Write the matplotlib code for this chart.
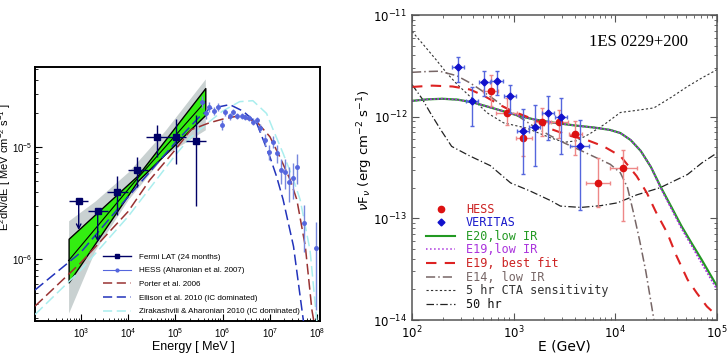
import numpy as np
import matplotlib.pyplot as plt
from matplotlib.lines import Line2D
from matplotlib.ticker import FuncFormatter, LogLocator, NullFormatter

plt.rcParams['font.family'] = 'DejaVu Sans'

# ---------------- left panel data (MeV) ----------------
fermi_e = [900, 2270, 5900, 15500, 40000, 103000, 275000]
fermi_elo = [550, 1440, 3610, 10000, 24300, 68500, 169000]
fermi_ehi = [1450, 3790, 10000, 26300, 68500, 169000, 450000]
fermi_f = [3.3e-6, 2.7e-6, 4.0e-6, 6.3e-6, 1.23e-5, 1.24e-5, 1.14e-5]
fermi_flo = [1.72e-6, 1.35e-6, 2.49e-6, 4.4e-6, 8.2e-6, 7.1e-6, 3.0e-6]
fermi_fhi = [3.3e-6, 2.7e-6, 5.47e-6, 8.2e-6, 1.58e-5, 1.78e-5, 1.95e-5]
fermi_ul = [True, True, False, False, False, False, False]

hess_loge = [5.57, 5.64, 5.72, 5.81, 5.90, 5.985, 6.06, 6.15, 6.23, 6.31, 6.40, 6.47, 6.55,
             6.64, 6.72, 6.80, 6.89, 6.98, 7.06, 7.155, 7.23, 7.32, 7.40, 7.48, 7.57, 7.73, 7.97]
hess_f = [2.55e-5, 2.0e-5, 2.3e-5, 2.12e-5, 2.28e-5, 1.58e-5, 2.04e-5, 1.88e-5, 2.08e-5, 1.91e-5,
          1.9e-5, 1.85e-5, 1.82e-5, 1.69e-5, 1.75e-5, 1.48e-5, 1.16e-5, 9.1e-6, 1.12e-5, 8.8e-6,
          6.3e-6, 6.05e-6, 4.93e-6, 5.3e-6, 6.7e-6, 2.1e-6, 1.26e-6]
hess_rel = [0.12, 0.10, 0.10, 0.08, 0.08, 0.10, 0.07, 0.07, 0.06, 0.06, 0.06, 0.06, 0.06,
            0.07, 0.07, 0.08, 0.12, 0.15, 0.12, 0.18, 0.25, 0.3, 0.35, 0.35, 0.3, 0.45, 0.72]

grey_e = [550, 2000, 1e4, 6e4, 4.3e5]
grey_hi = [2.2e-6, 3.3e-6, 6.0e-6, 1.4e-5, 4.07e-5]
grey_lo = [3.3e-7, 1.2e-6, 3.4e-6, 8.5e-6, 1.43e-5]

bow_e = [550, 16000, 4.3e5]
bow_hi = [1.52e-6, 5.6e-6, 3.37e-5]
bow_lo = [6.2e-7, 5.0e-6, 1.94e-5]
bow_c = [9.7e-7, 5.3e-6, 2.55e-5]

porter_loge = [2.03, 3.0, 4.0, 4.46, 5.0, 5.33, 5.72, 6.0, 6.33, 6.72, 7.0, 7.21, 7.43, 7.57, 7.75, 7.89, 7.95]
porter_f = [3.8e-7, 9.3e-7, 2.66e-6, 5.1e-6, 9.5e-6, 1.43e-5, 1.65e-5, 1.78e-5, 1.9e-5, 1.69e-5,
            1.24e-5, 8.2e-6, 5.1e-6, 3.4e-6, 1.3e-6, 3.5e-7, 2.5e-7]
ellison_loge = [2.03, 3.0, 4.0, 5.0, 5.5, 5.72, 6.15, 6.43, 6.72, 6.86, 7.0, 7.14, 7.28, 7.5, 7.72]
ellison_f = [5.3e-7, 1.15e-6, 3.6e-6, 1.1e-5, 1.85e-5, 2.2e-5, 2.4e-5, 2.1e-5, 1.64e-5, 1.16e-5,
             8.2e-6, 5.5e-6, 3.4e-6, 1.3e-6, 2.6e-7]
zira_loge = [2.03, 3.0, 4.0, 5.0, 5.3, 5.65, 6.0, 6.36, 6.64, 6.93, 7.07, 7.28, 7.5, 7.64, 7.85, 8.0]
zira_f = [3.2e-7, 8.0e-7, 2.4e-6, 8.5e-6, 1.2e-5, 1.6e-5, 2.1e-5, 2.55e-5, 2.6e-5, 2.0e-5,
          1.43e-5, 8.8e-6, 5.1e-6, 3.4e-6, 1.2e-6, 2.6e-7]

# ---------------- right panel data (GeV) ----------------
hr_e = [596, 851, 1222, 1897, 2818, 4036, 6699, 12023]
hr_elo = [501, 676, 1047, 1585, 2344, 3467, 5129, 8913]
hr_ehi = [708, 1072, 1514, 2239, 3388, 4677, 8913, 16218]
hr_f = [1.77e-12, 1.09e-12, 6.2e-13, 8.8e-13, 8.8e-13, 6.8e-13, 2.23e-13, 3.1e-13]
hr_flo = [1.27e-12, 8.3e-13, 4.1e-13, 6.4e-13, 6.2e-13, 4.2e-13, 1.3e-13, 9.4e-14]
hr_fhi = [2.57e-12, 1.53e-12, 7.75e-13, 1.22e-12, 1.17e-12, 9.0e-13, 3.9e-13, 4.7e-13]

ver_e = [286, 387, 516, 682, 912, 1222, 1603, 2173, 2917, 4467]
ver_elo = [250, 338, 451, 596, 796, 1067, 1400, 1897, 2547, 3597]
ver_ehi = [327, 443, 591, 781, 1045, 1400, 1836, 2489, 3342, 5458]
ver_f = [3.08e-12, 1.41e-12, 2.17e-12, 2.26e-12, 1.58e-12, 7.16e-13, 8.0e-13, 1.09e-12, 9.9e-13, 5.2e-13]
ver_flo = [2.2e-12, 8.1e-13, 1.58e-12, 1.64e-12, 1.09e-12, 2.7e-13, 3.3e-13, 5.9e-13, 4.3e-13, 1.2e-13]
ver_fhi = [3.9e-12, 1.96e-12, 2.8e-12, 2.83e-12, 2.07e-12, 1.18e-12, 1.3e-12, 1.58e-12, 1.52e-12, 9.3e-13]

e20_loge = [2.0, 2.15, 2.3, 2.45, 2.6, 2.75, 2.9, 3.05, 3.2, 3.4, 3.6, 3.8, 3.95, 4.05, 4.15,
            4.25, 4.35, 4.45, 4.55, 4.65, 4.75, 4.85, 5.0]
e20_f = [1.43e-12, 1.48e-12, 1.5e-12, 1.47e-12, 1.38e-12, 1.25e-12, 1.13e-12, 1.02e-12, 9.4e-13,
         8.7e-13, 8.2e-13, 7.8e-13, 7.4e-13, 6.9e-13, 5.9e-13, 4.6e-13, 3.2e-13, 2.0e-13, 1.3e-13,
         8.4e-14, 5.7e-14, 3.9e-14, 2.15e-14]
e19_f = [1.43e-12, 1.48e-12, 1.5e-12, 1.47e-12, 1.38e-12, 1.25e-12, 1.13e-12, 1.02e-12, 9.4e-13,
         8.7e-13, 8.2e-13, 7.8e-13, 7.4e-13, 6.9e-13, 5.9e-13, 4.6e-13, 3.2e-13, 1.95e-13, 1.25e-13,
         8.0e-14, 5.4e-14, 3.6e-14, 2.0e-14]
best_loge = [2.0, 2.2, 2.4, 2.57, 2.7, 2.8, 2.9, 3.0, 3.13, 3.25, 3.36, 3.55, 3.72, 3.885, 4.05,
             4.21, 4.31, 4.4, 4.51, 4.6, 4.71, 4.8, 4.9, 5.0]
best_f = [1.96e-12, 2.02e-12, 1.98e-12, 1.85e-12, 1.62e-12, 1.42e-12, 1.25e-12, 1.12e-12, 1.0e-12,
          8.8e-13, 7.6e-13, 6.5e-13, 5.9e-13, 5.1e-13, 4.1e-13, 2.6e-13, 1.78e-13, 1.15e-13, 7.2e-14,
          4.3e-14, 2.5e-14, 1.85e-14, 1.36e-14, 1.1e-14]
e14_loge = [2.0, 2.15, 2.27, 2.44, 2.57, 2.67, 2.8, 2.9, 3.0, 3.1, 3.2, 3.36, 3.5, 3.65, 3.8,
            3.95, 4.05, 4.12, 4.18, 4.24, 4.3, 4.38]
e14_f = [2.73e-12, 2.78e-12, 2.8e-12, 2.53e-12, 2.15e-12, 1.85e-12, 1.5e-12, 1.26e-12, 1.08e-12,
         9.3e-13, 8.0e-13, 6.5e-13, 5.5e-13, 4.7e-13, 4.0e-13, 3.4e-13, 2.8e-13, 2.0e-13, 1.12e-13,
         6.0e-14, 3.0e-14, 1.0e-14]
cta5_loge = [2.0, 2.12, 2.24, 2.34, 2.44, 2.57, 2.74, 2.9, 3.13, 3.36, 3.5, 3.62, 3.75, 3.9, 4.05,
             4.2, 4.38, 4.55, 4.71, 4.85, 5.0]
cta5_f = [6.9e-12, 5.0e-12, 3.6e-12, 2.7e-12, 2.1e-12, 1.58e-12, 1.09e-12, 8.7e-13, 7.7e-13, 6.2e-13,
          5.6e-13, 5.8e-13, 6.8e-13, 8.5e-13, 1.1e-12, 1.15e-12, 1.22e-12, 1.55e-12, 1.98e-12,
          2.4e-12, 2.9e-12]
cta50_loge = [2.0, 2.1, 2.18, 2.28, 2.39, 2.57, 2.77, 2.97, 3.16, 3.36, 3.46, 3.66, 3.85, 4.02,
              4.21, 4.44, 4.71, 4.85, 5.0]
cta50_f = [2.07e-12, 1.5e-12, 1.09e-12, 7.5e-13, 5.1e-13, 4.1e-13, 3.3e-13, 2.23e-13, 1.86e-13,
           1.5e-13, 1.32e-13, 1.28e-13, 1.33e-13, 1.42e-13, 1.7e-13, 2.0e-13, 2.7e-13, 3.5e-13, 4.4e-13]

# ---------------- figure ----------------
fig = plt.figure(figsize=(7.28, 3.6), dpi=100)
ax = fig.add_axes([35 / 728, 39 / 360, 285 / 728, 254 / 360])
ax2 = fig.add_axes([412 / 728, 40 / 360, 305 / 728, 305 / 360])

# left panel
navy = '#000066'
hblue = '#5566dd'
ax.fill_between(grey_e, grey_lo, grey_hi, color='#c9d1d1', lw=0, zorder=1)
ax.fill_between(bow_e, bow_lo, bow_hi, facecolor='#33ee11', edgecolor='black', lw=1.0, zorder=2)
ax.plot(bow_e, bow_c, color='black', lw=0.8, zorder=2)

ax.plot(10 ** np.array(zira_loge), zira_f, color='#aaeeee', lw=1.1, dashes=(7, 3), zorder=3)
ax.plot(10 ** np.array(porter_loge), porter_f, color='#993333', lw=1.1, dashes=(7, 3), zorder=3)
ax.plot(10 ** np.array(ellison_loge), ellison_f, color='#2233bb', lw=1.1, dashes=(7, 3), zorder=3)

hess_e = 10 ** np.array(hess_loge)
hess_f = np.array(hess_f)
hess_rel = np.array(hess_rel)
ax.errorbar(hess_e, hess_f, yerr=[hess_f * hess_rel, hess_f * hess_rel], fmt='o', ms=2.5,
            color=hblue, ecolor='#7788dd', elinewidth=1, zorder=4)

fe = np.array(fermi_e)
ff = np.array(fermi_f)
ul = np.array(fermi_ul)
ylo = np.where(ul, 0, ff - np.array(fermi_flo))
yhi = np.where(ul, 0, np.array(fermi_fhi) - ff)
ax.errorbar(fe, ff, xerr=[fe - np.array(fermi_elo), np.array(fermi_ehi) - fe], yerr=[ylo, yhi],
            fmt='s', ms=4, color=navy, elinewidth=1, zorder=5)
for e, f, lo, u in zip(fermi_e, fermi_f, fermi_flo, fermi_ul):
    if u:
        ax.annotate('', xy=(e, lo), xytext=(e, f),
                    arrowprops=dict(arrowstyle='->', color=navy, lw=1, mutation_scale=8), zorder=5)

ax.set_xscale('log')
ax.set_yscale('log')
ax.set_xlim(107, 1.15e8)
ax.set_ylim(2.8e-7, 5.2e-5)
fmt = FuncFormatter(lambda v, p: r'$\mathregular{10^{%d}}$' % round(np.log10(v)))
ax.xaxis.set_major_formatter(fmt)
ax.yaxis.set_major_formatter(fmt)
ax.xaxis.set_minor_formatter(NullFormatter())
ax.yaxis.set_minor_formatter(NullFormatter())
ax.xaxis.set_minor_locator(LogLocator(subs=np.arange(2, 10)))
ax.tick_params(which='both', direction='in', labelsize=7)
ax.tick_params(axis='y', pad=1.5)
ax.tick_params(which='major', length=5)
ax.tick_params(which='minor', length=2.5)
for lab in ax.get_xticklabels() + ax.get_yticklabels():
    lab.set_family('Liberation Sans')
for s in ax.spines.values():
    s.set_linewidth(1.4)

left_handles = [Line2D([], [], color=navy, marker='s', ms=3.5, lw=1),
                Line2D([], [], color=hblue, marker='o', ms=2, lw=0.8),
                Line2D([], [], color='#993333', dashes=(6, 3), lw=1.1),
                Line2D([], [], color='#2233bb', dashes=(6, 3), lw=1.1),
                Line2D([], [], color='#aaeeee', dashes=(6, 3), lw=1.1)]
left_labels = ['Fermi LAT (24 months)', 'HESS (Aharonian et al. 2007)', 'Porter et al. 2006',
               'Ellison et al. 2010 (IC dominated)', 'Zirakashvili & Aharonian 2010 (IC dominated)']
ax.legend(left_handles, left_labels, loc='lower left', bbox_to_anchor=(0.22, 0.0), frameon=False,
          prop={'family': 'Liberation Sans', 'size': 5.8}, handlelength=3.4, handletextpad=1.0,
          labelspacing=0.75, borderaxespad=0.3)

fig.text(193 / 728, 1 - 347 / 360, 'Energy [ MeV ]', ha='center', va='center',
         family='Liberation Sans', size=9)
fig.text(5 / 728, 1 - 167 / 360,
         r'E$\mathregular{^2}$dN/dE [ MeV cm$\mathregular{^{-2}}$ s$\mathregular{^{-1}}$ ]',
         rotation=90, ha='center', va='center', family='Liberation Sans', size=8)

# right panel
red = '#dd1111'
blue = '#1111cc'
ax2.plot(10 ** np.array(cta5_loge), cta5_f, color='#333333', lw=0.8, dashes=(2, 2))
ax2.plot(10 ** np.array(cta50_loge), cta50_f, color='#222222', lw=0.9, dashes=(6, 2, 1, 2))
ax2.plot(10 ** np.array(e14_loge), e14_f, color='#776666', lw=1.1, dashes=(6, 2, 1, 2))
ax2.plot(10 ** np.array(e20_loge), e20_f, color='#229922', lw=1.6)
ax2.plot(10 ** np.array(e20_loge), e19_f, color='#aa33dd', lw=1.3, ls=(0, (1, 1)))
ax2.plot(10 ** np.array(best_loge), best_f, color='#dd2222', lw=1.5, dashes=(5, 4))

he = np.array(hr_e)
hf = np.array(hr_f)
ax2.errorbar(he, hf, xerr=[he - np.array(hr_elo), np.array(hr_ehi) - he],
             yerr=[hf - np.array(hr_flo), np.array(hr_fhi) - hf], fmt='o', ms=4.5, color=red,
             ecolor='#ee8888', elinewidth=1, capsize=1.5, zorder=5)
ve = np.array(ver_e)
vf = np.array(ver_f)
ax2.errorbar(ve, vf, xerr=[ve - np.array(ver_elo), np.array(ver_ehi) - ve],
             yerr=[vf - np.array(ver_flo), np.array(ver_fhi) - vf], fmt='D', ms=3.5, color=blue,
             ecolor='#5566dd', elinewidth=1, capsize=1.5, zorder=6)

ax2.set_xscale('log')
ax2.set_yscale('log')
ax2.set_xlim(100, 1e5)
ax2.set_ylim(1e-14, 1e-11)
ax2.xaxis.set_minor_locator(LogLocator(subs=np.arange(2, 10)))
ax2.yaxis.set_minor_locator(LogLocator(subs=np.arange(2, 10)))
ax2.xaxis.set_minor_formatter(NullFormatter())
ax2.yaxis.set_minor_formatter(NullFormatter())
ax2.tick_params(which='both', direction='in', top=True, right=True, labelsize=8.5, color='#555555')
ax2.tick_params(which='major', length=5)
ax2.tick_params(which='minor', length=2.5)
for s in ax2.spines.values():
    s.set_color('#555555')
    s.set_linewidth(1.1)

right_handles = [Line2D([], [], color=red, marker='o', ls='none', ms=4.5),
                 Line2D([], [], color=blue, marker='D', ls='none', ms=3.5),
                 Line2D([], [], color='#229922', lw=1.5),
                 Line2D([], [], color='#aa33dd', lw=1.1, ls=':'),
                 Line2D([], [], color='#dd2222', lw=1.5, dashes=(5, 4)),
                 Line2D([], [], color='#776666', lw=1.1, dashes=(6, 2, 1, 2)),
                 Line2D([], [], color='#333333', lw=0.8, dashes=(2, 2)),
                 Line2D([], [], color='#222222', lw=0.9, dashes=(6, 2, 1, 2))]
right_labels = ['HESS', 'VERITAS', 'E20,low IR', 'E19,low IR', 'E19, best fit', 'E14, low IR',
                '5 hr CTA sensitivity', '50 hr']
text_colors = ['#cc2222', '#1a1acc', '#229922', '#aa33dd', '#cc2222', '#776666', '#333333', '#111111']
leg2 = ax2.legend(right_handles, right_labels, loc='upper left', bbox_to_anchor=(0.03, 0.40),
                  frameon=False, prop={'family': 'DejaVu Sans Mono', 'size': 8.5},
                  handlelength=2.5, handletextpad=0.9, labelspacing=0.05, borderaxespad=0.0)
for t, c in zip(leg2.get_texts(), text_colors):
    t.set_color(c)

ax2.text(0.741, 0.911, '1ES 0229+200', transform=ax2.transAxes, ha='center', va='center',
         family='Liberation Serif', size=12)
fig.text(564 / 728, 1 - 346 / 360, 'E (GeV)', ha='center', va='center', size=10)
fig.text(365 / 728, 1 - 150 / 360, r'$\nu$F$_\nu$ (erg cm$^{-2}$ s$^{-1}$)', rotation=90,
         ha='center', va='center', size=9.5)

fig.savefig('out.png', dpi=100)
